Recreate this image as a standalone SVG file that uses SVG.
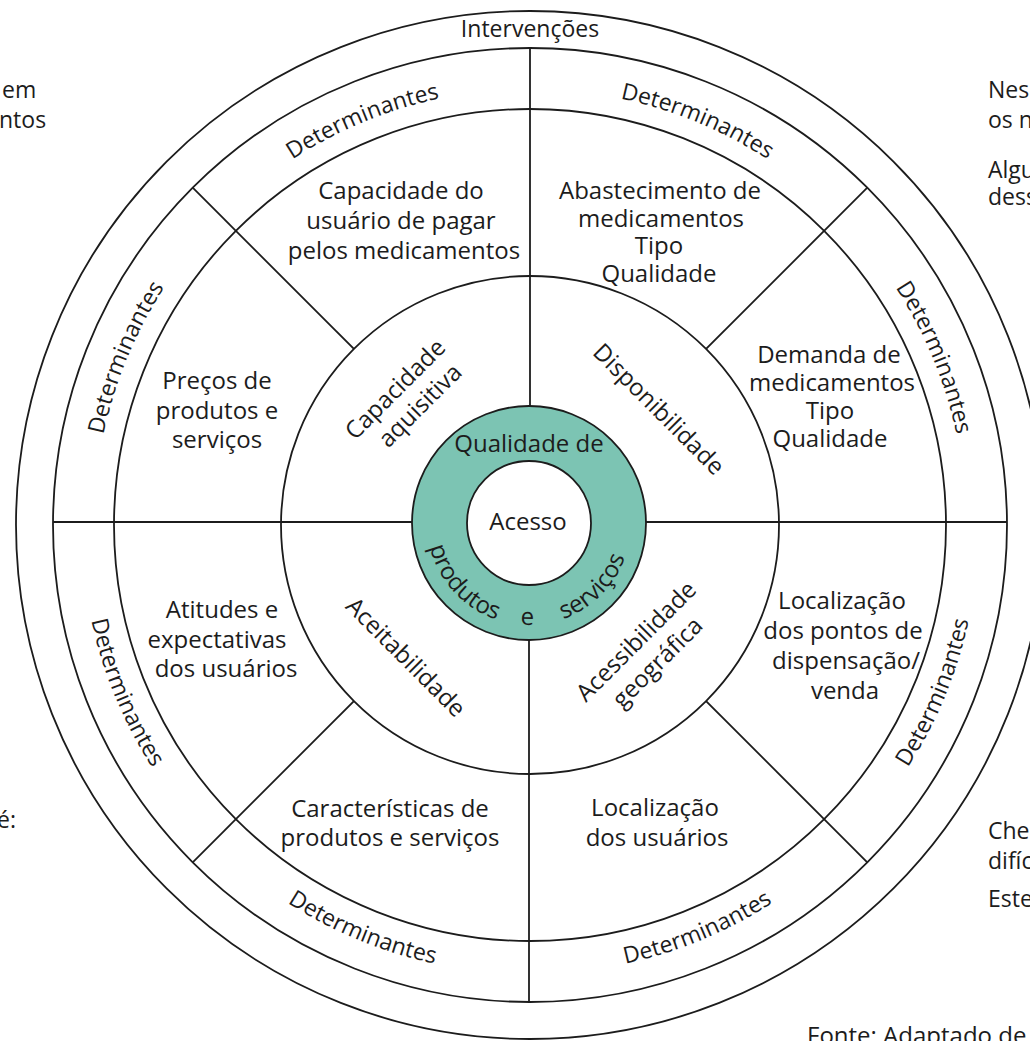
<svg xmlns="http://www.w3.org/2000/svg" width="1030" height="1041" viewBox="0 0 1030 1041">
  <style>
    .ring { fill: none; stroke: #1c1c1c; stroke-width: 1.8; }
    .div { stroke: #1c1c1c; stroke-width: 1.8; fill: none; }
    text { font-family: "Open Sans", "Liberation Sans", sans-serif; fill: #1c1c1c; }
    .box { font-size: 24px; text-anchor: middle; }
    .det { font-size: 23px; }
    .side { font-size: 23px; }
  </style>
  <defs>
    <!-- arcs for the "Determinantes" band: upper half read clockwise -->
    <path id="d1" d="M94,525 A436,436 0 0 1 221.7,216.7"/>
    <path id="d2" d="M221.7,216.7 A436,436 0 0 1 530,89"/>
    <path id="d3" d="M530,89 A436,436 0 0 1 838.3,216.7"/>
    <path id="d4" d="M838.3,216.7 A436,436 0 0 1 966,525"/>
    <!-- lower half read counter-clockwise -->
    <path id="d5" d="M847.5,842.5 A449,449 0 0 0 979,525"/>
    <path id="d6" d="M530,974 A449,449 0 0 0 847.5,842.5"/>
    <path id="d7" d="M212.5,842.5 A449,449 0 0 0 530,974"/>
    <path id="d8" d="M81,525 A449,449 0 0 0 212.5,842.5"/>
    <!-- lower arc of the green ring -->
    <path id="core" d="M427,523 A102,102 0 0 0 631,523"/>
  </defs>

  <!-- page text around the figure -->
  <g id="margin-text" class="side">
    <text x="2" y="98">em</text>
    <text x="-1" y="128">ntos</text>
    <text x="-3" y="828">é:</text>
    <text x="988" y="98">Nes</text>
    <text x="988" y="128">os n</text>
    <text x="988" y="178">Algu</text>
    <text x="988" y="205">dess</text>
    <text x="988" y="839">Che</text>
    <text x="988" y="869">difíc</text>
    <text x="988" y="907">Este</text>
    <text x="807" y="1044" style="font-size:24px">Fonte: Adaptado de</text>
  </g>

  <!-- rings -->
  <g id="rings">
    <circle class="ring" cx="530" cy="525" r="514"/>
    <circle class="ring" cx="530" cy="525" r="477"/>
    <circle class="ring" cx="530" cy="525" r="416"/>
    <circle class="ring" cx="530" cy="525" r="249"/>
  </g>

  <!-- dividers -->
  <g id="connectors">
    <line class="div" x1="530" y1="48" x2="530" y2="406"/>
    <line class="div" x1="529" y1="640" x2="529" y2="1002"/>
    <line class="div" x1="53" y1="522" x2="412" y2="522"/>
    <line class="div" x1="646" y1="522" x2="1007" y2="522"/>
    <line class="div" x1="353.9" y1="348.9" x2="192.7" y2="187.7"/>
    <line class="div" x1="706.1" y1="348.9" x2="867.3" y2="187.7"/>
    <line class="div" x1="353.9" y1="701.1" x2="192.7" y2="862.3"/>
    <line class="div" x1="706.1" y1="701.1" x2="867.3" y2="862.3"/>
  </g>

  <!-- core: quality ring and access -->
  <g id="core-ring">
    <circle cx="529" cy="523" r="117" fill="#7cc4b3" stroke="#1c1c1c" stroke-width="1.8"/>
    <circle cx="529" cy="523" r="62" fill="#ffffff" stroke="#1c1c1c" stroke-width="1.8"/>
    <text class="box" x="529" y="452">Qualidade de</text>
    <text style="font-size:24px" text-anchor="middle">
      <textPath href="#core" startOffset="23.6%">produtos</textPath>
    </text>
    <text style="font-size:24px" text-anchor="middle">
      <textPath href="#core" startOffset="49.4%">e</textPath>
    </text>
    <text style="font-size:24px" text-anchor="middle">
      <textPath href="#core" startOffset="75%">serviços</textPath>
    </text>
  </g>
  <g id="acesso">
    <text class="box" x="528" y="530">Acesso</text>
  </g>

  <!-- outer label -->
  <g id="intervencoes">
    <text x="530" y="37" style="font-size:23px" text-anchor="middle">Intervenções</text>
  </g>

  <!-- determinants band -->
  <g id="determinantes" class="det" text-anchor="middle">
    <text><textPath href="#d1" startOffset="50%">Determinantes</textPath></text>
    <text><textPath href="#d2" startOffset="50%">Determinantes</textPath></text>
    <text><textPath href="#d3" startOffset="50%">Determinantes</textPath></text>
    <text><textPath href="#d4" startOffset="50%">Determinantes</textPath></text>
    <text><textPath href="#d5" startOffset="50%">Determinantes</textPath></text>
    <text><textPath href="#d6" startOffset="50%">Determinantes</textPath></text>
    <text><textPath href="#d7" startOffset="50%">Determinantes</textPath></text>
    <text><textPath href="#d8" startOffset="50%">Determinantes</textPath></text>
  </g>

  <!-- dimensions of access -->
  <g id="capacidade-aquisitiva" transform="translate(401,395) rotate(-45)">
    <text class="box" x="0" y="0">Capacidade</text>
    <text class="box" x="6" y="29">aquisitiva</text>
  </g>
  <g id="disponibilidade" transform="translate(653,415) rotate(45)">
    <text class="box" x="0" y="0">Disponibilidade</text>
  </g>
  <g id="aceitabilidade" transform="translate(400,663) rotate(45)">
    <text class="box" x="0" y="0">Aceitabilidade</text>
  </g>
  <g id="acessibilidade" transform="translate(642,647) rotate(-45)">
    <text class="box" x="0" y="0">Acessibilidade</text>
    <text class="box" x="0" y="30">geográfica</text>
  </g>

  <!-- determinant factors -->
  <g id="capacidade-usuario" class="box">
    <text x="401" y="199">Capacidade do</text>
    <text x="401" y="229">usuário de pagar</text>
    <text x="404" y="259">pelos medicamentos</text>
  </g>
  <g id="abastecimento" class="box">
    <text x="660" y="199">Abastecimento de</text>
    <text x="661" y="227">medicamentos</text>
    <text x="659" y="254">Tipo</text>
    <text x="659" y="282">Qualidade</text>
  </g>
  <g id="demanda" class="box">
    <text x="829" y="363">Demanda de</text>
    <text x="832" y="391">medicamentos</text>
    <text x="830" y="419">Tipo</text>
    <text x="830" y="447">Qualidade</text>
  </g>
  <g id="precos" class="box">
    <text x="217" y="389">Preços de</text>
    <text x="217" y="419">produtos e</text>
    <text x="217" y="448">serviços</text>
  </g>
  <g id="atitudes" class="box">
    <text x="222" y="618">Atitudes e</text>
    <text x="217" y="648">expectativas</text>
    <text x="226" y="677">dos usuários</text>
  </g>
  <g id="localizacao-pontos" class="box">
    <text x="842" y="609">Localização</text>
    <text x="843" y="639">dos pontos de</text>
    <text x="846" y="669">dispensação/</text>
    <text x="845" y="699">venda</text>
  </g>
  <g id="caracteristicas" class="box">
    <text x="390" y="817">Características de</text>
    <text x="390" y="846">produtos e serviços</text>
  </g>
  <g id="localizacao-usuarios" class="box">
    <text x="655" y="816">Localização</text>
    <text x="657" y="846">dos usuários</text>
  </g>
</svg>
